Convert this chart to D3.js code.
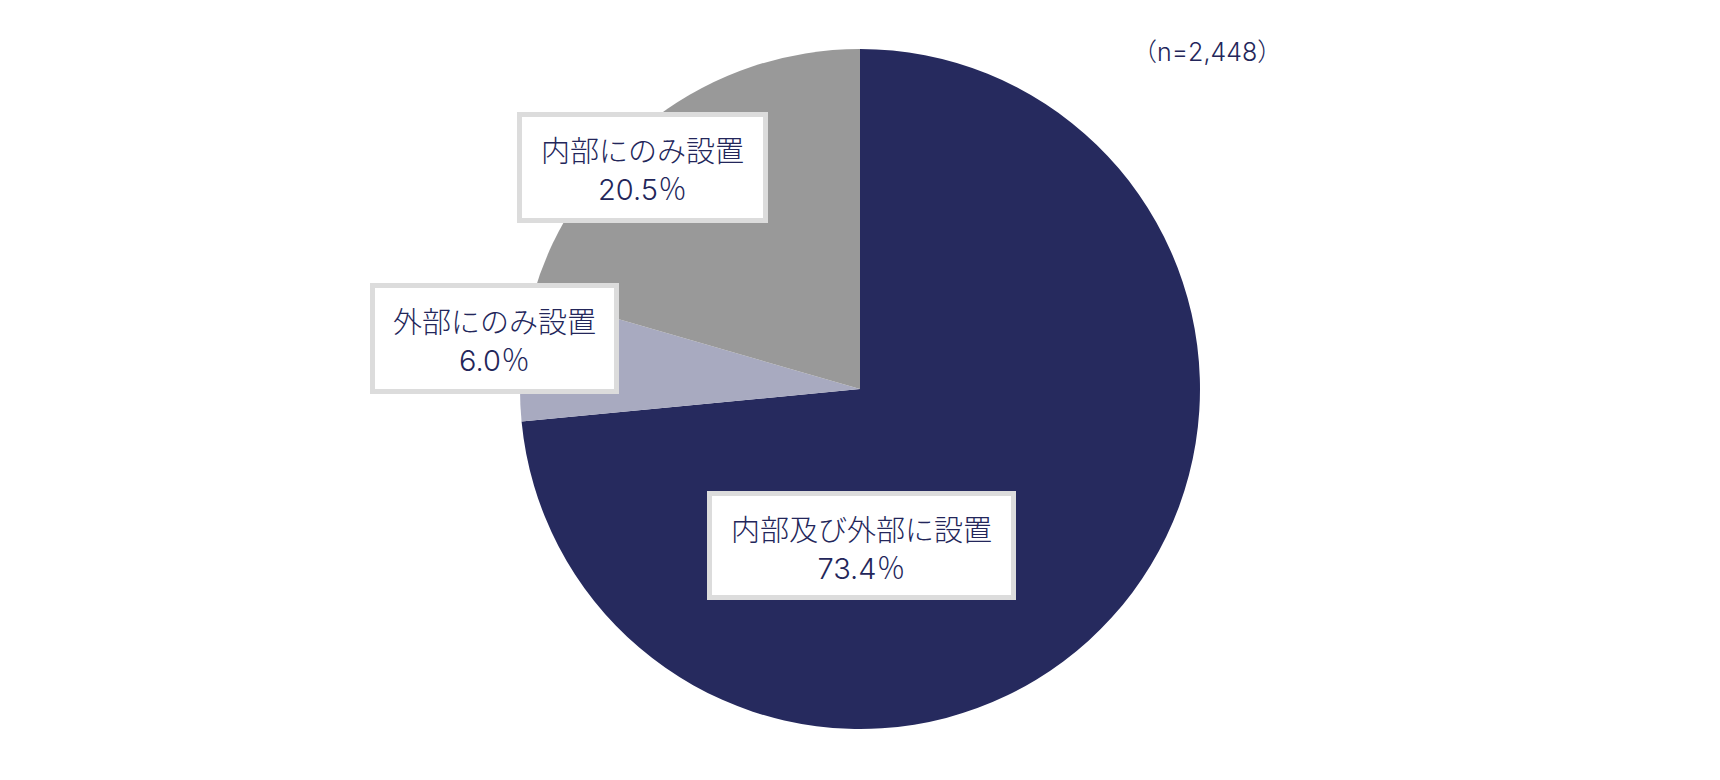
<!DOCTYPE html>
<html>
<head>
<meta charset="utf-8">
<script src="https://cdn.jsdelivr.net/npm/d3@7"></script>
<style>
  body { margin: 0; background: #fff; }
  text { font-family: Inter, "Noto Sans CJK JP", sans-serif; font-weight: 300; }
</style>
</head>
<body>
<svg id="chart" width="1720" height="780"></svg>
<script>
var categories = ['内部及び外部に設置', '外部にのみ設置', '内部にのみ設置']
var values = [73.4, 6.0, 20.5]
var colors = ['#262a5e', '#a8aac0', '#999999']
var sampleNote = '（n=2,448）'

// label boxes [x, y, w, h]
var boxes = [
  [707, 491, 309, 109],
  [370, 283, 249, 111],
  [517, 112, 251, 111]
]

var svg = d3.select('#chart')
var cx = 860
var cy = 389
var radius = 340

var data = categories.map(function (c, i) {
  return { name: c, value: values[i], color: colors[i], box: boxes[i] }
})

var pie = d3.pie()
  .sort(null)
  .value(function (d) { return d.value })

var arc = d3.arc()
  .innerRadius(0)
  .outerRadius(radius)

var g = svg.append('g')
  .attr('transform', 'translate(' + cx + ',' + cy + ')')

g.selectAll('path')
  .data(pie(data))
  .enter().append('path')
    .attr('d', arc)
    .attr('fill', function (d) { return d.data.color })

var labels = svg.selectAll('g.label')
  .data(data)
  .enter().append('g')
    .attr('class', 'label')

labels.append('rect')
  .attr('x', function (d) { return d.box[0] + 2.5 })
  .attr('y', function (d) { return d.box[1] + 2.5 })
  .attr('width', function (d) { return d.box[2] - 5 })
  .attr('height', function (d) { return d.box[3] - 5 })
  .attr('fill', '#fff')
  .attr('stroke', '#dcdcdc')
  .attr('stroke-width', 5)

labels.append('text')
  .attr('x', function (d) { return d.box[0] + d.box[2] / 2 })
  .attr('y', function (d) { return d.box[1] + 39 })
  .attr('text-anchor', 'middle')
  .attr('dominant-baseline', 'central')
  .attr('font-size', 29)
  .attr('fill', '#23265a')
  .text(function (d) { return d.name })

labels.append('text')
  .attr('x', function (d) { return d.box[0] + d.box[2] / 2 })
  .attr('y', function (d) { return d.box[1] + 77 })
  .attr('text-anchor', 'middle')
  .attr('dominant-baseline', 'central')
  .attr('font-size', 29)
  .attr('fill', '#23265a')
  .text(function (d) { return d.value.toFixed(1) + '％' })

svg.append('text')
  .attr('x', 1132)
  .attr('y', 52)
  .attr('dominant-baseline', 'central')
  .attr('font-size', 25)
  .attr('fill', '#23265a')
  .text(sampleNote)
</script>
</body>
</html>
